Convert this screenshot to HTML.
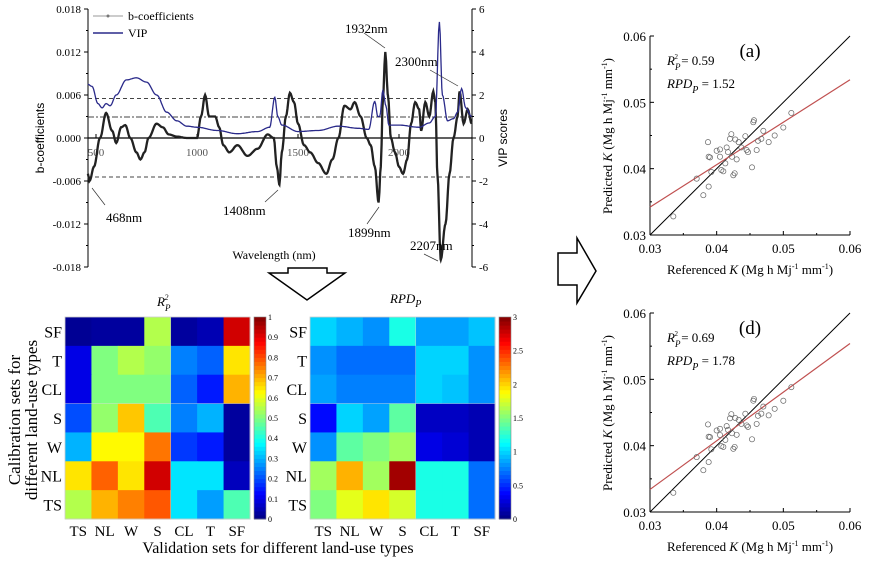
<!DOCTYPE html>
<html><head><meta charset="utf-8">
<style>
html,body{margin:0;padding:0;background:#fff;}
svg{display:block;font-family:"Liberation Serif",serif;}
</style></head>
<body>
<svg id="s" width="869" height="565" xmlns="http://www.w3.org/2000/svg"></svg>
<script>
const S=document.getElementById('s');let h='';
function X(l){return 96+(l-500)*0.202;}
function Yb(b){return 138-b/0.006*43;}
function Yv(v){return 138-v*21.5;}
function interp(pts,step){let o=[];for(let i=0;i<pts.length-1;i++){const [a,b]=pts[i],[c,d]=pts[i+1];for(let t=0;t<1;t+=step/(c-a)){const s=(1-Math.cos(Math.PI*t))/2;o.push([a+(c-a)*t,b+(d-b)*s]);}}o.push(pts[pts.length-1]);return o;}
h+='<line x1="88" y1="9" x2="88" y2="267" stroke="#000"/><line x1="472" y1="9" x2="472" y2="267" stroke="#000"/>';
[0.018,0.012,0.006,0,-0.006,-0.012,-0.018].forEach(v=>{const y=Yb(v);h+=`<line x1="84" y1="${y}" x2="88" y2="${y}" stroke="#000"/><text x="81" y="${y+4}" font-size="11" text-anchor="end">${v===0?'0.000':v.toFixed(3)}</text>`;});
for(let v=-0.015;v<0.018;v+=0.006){const y=Yb(v);h+=`<line x1="86" y1="${y}" x2="88" y2="${y}" stroke="#000"/>`;}
[6,4,2,0,-2,-4,-6].forEach(v=>{const y=Yv(v);h+=`<line x1="472" y1="${y}" x2="476" y2="${y}" stroke="#000"/><text x="479" y="${y+4}" font-size="11">${v}</text>`;});
for(let v=-5;v<6;v+=2){const y=Yv(v);h+=`<line x1="472" y1="${y}" x2="474" y2="${y}" stroke="#000"/>`;}
h+='<line x1="88" y1="138" x2="472" y2="138" stroke="#000" stroke-width="1.3"/>';
[500,1000,1500,2000].forEach(l=>{h+=`<text x="${X(l)}" y="156" font-size="11" fill="#555" text-anchor="middle">${l}</text><line x1="${X(l)}" y1="138" x2="${X(l)}" y2="134" stroke="#000"/>`;});
h+='<line x1="88" y1="98.5" x2="472" y2="98.5" stroke="#444" stroke-dasharray="4,3"/>';
h+='<line x1="88" y1="117" x2="472" y2="117" stroke="#444" stroke-dasharray="6,2,2,2"/>';
h+='<line x1="88" y1="177" x2="472" y2="177" stroke="#444" stroke-dasharray="4,3"/>';
const B=[[460,-0.005],[468,-0.006],[490,-0.004],[520,0],[550,0.0035],[580,0.001],[600,-0.0007],[625,0.0015],[645,0.0018],[670,0],[700,-0.002],[720,-0.003],[740,-0.002],[760,0],[800,0.002],[830,0.0015],[860,0.0005],[900,0.0002],[950,0],[1000,0],[1020,0.003],[1040,0.006],[1060,0.003],[1090,0.003],[1110,0.0015],[1130,-0.001],[1160,-0.002],[1200,-0.001],[1250,-0.0025],[1300,-0.0015],[1350,0.0005],[1380,0],[1395,-0.004],[1408,-0.0065],[1420,-0.002],[1440,0.003],[1460,0.0063],[1480,0.005],[1500,0.002],[1530,-0.001],[1560,-0.002],[1600,-0.0035],[1640,-0.005],[1670,-0.003],[1700,0],[1730,0.0045],[1760,0.004],[1780,0.005],[1810,0.003],[1840,0],[1860,-0.001],[1880,-0.004],[1899,-0.009],[1910,-0.004],[1920,0.005],[1932,0.012],[1945,0.006],[1960,0],[1980,-0.002],[2000,-0.004],[2020,-0.005],[2040,-0.003],[2060,0.002],[2080,0.005],[2100,0.004],[2110,0.001],[2130,0.005],[2150,0.003],[2170,0.0065],[2180,0.005],[2190,-0.005],[2207,-0.017],[2230,-0.012],[2250,-0.005],[2270,0],[2290,0.003],[2300,0.0065],[2320,0.002],[2340,0.004],[2360,0.002]];
const bp=interp(B,4);
h+=`<polyline fill="none" stroke="#222" stroke-width="2.3" points="${bp.map(p=>X(p[0]).toFixed(1)+','+Yb(p[1]).toFixed(1)).join(' ')}"/>`;
const V=[[460,2.5],[480,2.4],[510,1.6],[530,1.4],[550,1.6],[570,1.5],[600,2.0],[650,2.7],[700,2.8],[750,2.6],[800,2.0],[850,1.2],[900,0.8],[950,0.55],[1000,0.5],[1100,0.35],[1200,0.2],[1300,0.3],[1360,0.5],[1385,1.9],[1400,1.0],[1420,0.6],[1500,0.3],[1600,0.35],[1700,0.55],[1800,0.45],[1850,0.4],[1880,1.7],[1895,1.0],[1905,1.0],[1920,2.2],[1935,1.5],[1950,0.6],[2000,0.6],[2100,0.5],[2150,0.7],[2180,1.0],[2200,5.4],[2215,2.0],[2240,0.8],[2270,0.9],[2290,1.2],[2310,2.3],[2330,1.4],[2360,1.0]];
const vp=interp(V,4);
h+=`<polyline fill="none" stroke="#2a2a8a" stroke-width="1.3" points="${vp.map(p=>X(p[0]).toFixed(1)+','+Yv(p[1]).toFixed(1)).join(' ')}"/>`;
h+='<line x1="93" y1="16" x2="123" y2="16" stroke="#999"/><circle cx="108" cy="16" r="1.5" fill="#777"/><text x="128" y="20" font-size="12">b-coefficients</text>';
h+='<line x1="93" y1="33" x2="123" y2="33" stroke="#2a2a8a" stroke-width="1.5"/><text x="128" y="37" font-size="12">VIP</text>';
h+='<text transform="translate(44,138) rotate(-90)" font-size="12" text-anchor="middle" font-family="Liberation Sans,sans-serif">b-coefficients</text>';
h+='<text transform="translate(507,138) rotate(-90)" font-size="12" text-anchor="middle" font-family="Liberation Sans,sans-serif">VIP scores</text>';
h+='<text x="274" y="259" font-size="12" text-anchor="middle">Wavelength (nm)</text>';
const A=[['468nm',106,222],['1408nm',223,215],['1899nm',348,237],['1932nm',345,33],['2300nm',395,66],['2207nm',410,250]];
A.forEach(a=>{h+=`<text x="${a[1]}" y="${a[2]}" font-size="13">${a[0]}</text>`;});
h+='<line x1="105" y1="205" x2="92" y2="188" stroke="#333" stroke-width="0.7"/><line x1="265" y1="202" x2="278" y2="190" stroke="#333" stroke-width="0.7"/><line x1="367" y1="224" x2="379" y2="207" stroke="#333" stroke-width="0.7"/><line x1="364" y1="33" x2="385" y2="48" stroke="#333" stroke-width="0.7"/><line x1="430" y1="70" x2="458" y2="86" stroke="#333" stroke-width="0.7"/><line x1="424" y1="254" x2="438" y2="261" stroke="#333" stroke-width="0.7"/>';
h+='<path d="M288,268 H327 V273 H345 L307,300 L269,273 H288 Z" fill="#fff" stroke="#000" stroke-width="1.5"/>';
h+='<path d="M558,253 H577 V238 L596,271 L577,303 V285 H558 Z" fill="#fff" stroke="#000" stroke-width="1.5"/>';
function jet(v){v=Math.max(0,Math.min(1,v));const r=Math.min(4*v-1.5,-4*v+4.5),g=Math.min(4*v-0.5,-4*v+3.5),b=Math.min(4*v+0.5,-4*v+2.5);const c=x=>Math.round(255*Math.max(0,Math.min(1,x)));return `rgb(${c(r)},${c(g)},${c(b)})`;}
const rows=['SF','T','CL','S','W','NL','TS'],cols=['TS','NL','W','S','CL','T','SF'];
const R2=[[0.02,0.03,0.03,0.55,0.03,0.05,0.92],[0.1,0.5,0.55,0.52,0.25,0.22,0.65],[0.1,0.5,0.5,0.5,0.22,0.15,0.7],[0.2,0.52,0.68,0.45,0.25,0.3,0.03],[0.3,0.63,0.63,0.76,0.18,0.15,0.03],[0.65,0.78,0.65,0.92,0.35,0.35,0.06],[0.55,0.7,0.75,0.79,0.35,0.28,0.45]];
const RPD=[[1.0,0.9,0.8,1.2,0.85,0.85,0.95],[0.8,0.7,0.7,0.7,1.0,1.0,0.8],[0.85,0.75,0.75,0.75,1.0,0.95,0.8],[0.4,1.0,0.85,1.4,0.2,0.2,0.15],[0.8,1.4,1.5,1.6,0.3,0.25,0.15],[1.6,2.1,1.6,2.9,1.2,1.2,0.7],[1.5,1.8,1.95,1.75,1.2,1.2,0.7]];
function heat(x0,data,mx,labs){const w=185/7,hh=202/7,y0=317;
for(let i=0;i<7;i++)for(let j=0;j<7;j++)h+=`<rect x="${x0+j*w}" y="${y0+i*hh}" width="${w+0.5}" height="${hh+0.5}" fill="${jet(data[i][j]/mx)}"/>`;
h+=`<line x1="${x0}" y1="${y0+3*hh}" x2="${x0+185}" y2="${y0+3*hh}" stroke="#ddd" stroke-width="0.6" opacity="0.7"/><line x1="${x0+4*w}" y1="${y0}" x2="${x0+4*w}" y2="${y0+202}" stroke="#ddd" stroke-width="0.6" opacity="0.7"/>`;
h+=`<rect x="${x0}" y="${y0}" width="185" height="202" fill="none" stroke="#ccc" stroke-width="0.8"/>`;
rows.forEach((r,i)=>h+=`<text x="${x0-3}" y="${y0+i*hh+hh/2+6}" font-size="16" text-anchor="end">${r}</text>`);
cols.forEach((c,j)=>h+=`<text x="${x0+j*w+w/2}" y="536" font-size="15" text-anchor="middle">${c}</text>`);
for(let k=0;k<50;k++)h+=`<rect x="${x0+189}" y="${y0+202-(k+1)*202/50}" width="12" height="${202/50+0.5}" fill="${jet((k+0.5)/50)}"/>`;
h+=`<rect x="${x0+189}" y="${y0}" width="12" height="202" fill="none" stroke="#888" stroke-width="0.6"/>`;
labs.forEach(([t,f])=>h+=`<text x="${x0+203}" y="${y0+202-f*202+3}" font-size="8">${t}</text>`);}
heat(65,R2,1,[0,0.1,0.2,0.3,0.4,0.5,0.6,0.7,0.8,0.9,1].map(v=>[v,v]));
heat(310,RPD,3,[[0,0],[0.5,1/6],[1,1/3],[1.5,0.5],[2,2/3],[2.5,5/6],[3,1]]);
h+='<text x="157" y="306" font-size="13" font-style="italic">R<tspan dy="5" font-size="9">P</tspan><tspan dx="-6" dy="-11" font-size="8">2</tspan></text>';
h+='<text x="390" y="303" font-size="13" font-style="italic">RPD<tspan dy="4" font-size="10">P</tspan></text>';
h+='<text transform="translate(20,420) rotate(-90)" font-size="17" text-anchor="middle">Calibration sets for</text>';
h+='<text transform="translate(37,420) rotate(-90)" font-size="17" text-anchor="middle">different land-use types</text>';
h+='<text x="278" y="553" font-size="16" text-anchor="middle">Validation sets for different land-use types</text>';
const P=[[0.0335,0.0328],[0.037,0.0385],[0.038,0.036],[0.0388,0.0373],[0.0387,0.044],[0.0388,0.0418],[0.039,0.0417],[0.0392,0.0395],[0.040,0.0427],[0.0405,0.0429],[0.0405,0.0418],[0.0407,0.0398],[0.041,0.0396],[0.0413,0.0408],[0.0415,0.0432],[0.0417,0.0425],[0.042,0.0445],[0.0422,0.0452],[0.0423,0.0418],[0.0425,0.039],[0.0427,0.0393],[0.0428,0.0444],[0.043,0.0414],[0.0433,0.044],[0.0437,0.0432],[0.0443,0.0449],[0.0445,0.0428],[0.0447,0.0425],[0.0453,0.0402],[0.0455,0.047],[0.0456,0.0473],[0.046,0.0428],[0.0462,0.0442],[0.0467,0.0445],[0.047,0.0457],[0.0478,0.044],[0.0487,0.045],[0.050,0.0462],[0.0512,0.0484]];
function scat(y0,lab,r2,rpd,r0,r1,sh){const sx=v=>650+(v-0.03)/0.03*200,sy=v=>y0+199-(v-0.03)/0.03*199;
h+=`<line x1="650" y1="${y0}" x2="650" y2="${y0+199}" stroke="#000"/><line x1="650" y1="${y0+199}" x2="850" y2="${y0+199}" stroke="#000"/>`;
[0.03,0.04,0.05,0.06].forEach(v=>{h+=`<line x1="${sx(v)}" y1="${y0+199}" x2="${sx(v)}" y2="${y0+195}" stroke="#000"/><text x="${sx(v)}" y="${y0+217}" font-size="13" text-anchor="middle">${v.toFixed(2)}</text><line x1="650" y1="${sy(v)}" x2="654" y2="${sy(v)}" stroke="#000"/><text x="646" y="${sy(v)+5}" font-size="13" text-anchor="end">${v.toFixed(2)}</text>`;});
[0.035,0.045,0.055].forEach(v=>{h+=`<line x1="${sx(v)}" y1="${y0+199}" x2="${sx(v)}" y2="${y0+197}" stroke="#000"/><line x1="650" y1="${sy(v)}" x2="652" y2="${sy(v)}" stroke="#000"/>`;});
h+=`<line x1="650" y1="${y0+199}" x2="850" y2="${y0}" stroke="#000"/>`;
h+=`<line x1="650" y1="${sy(r0)}" x2="850" y2="${sy(r1)}" stroke="#c05050" stroke-width="1.2"/>`;
P.forEach(p=>{const yy=p[1]+(p[0]-p[1])*sh;h+=`<circle cx="${sx(p[0])}" cy="${sy(yy)}" r="2.6" fill="none" stroke="#666" stroke-width="0.7"/>`;});
h+=`<text x="750" y="${y0+21}" font-size="19" text-anchor="middle">${lab}</text>`;
h+=`<text x="667" y="${y0+29}" font-size="13"><tspan font-style="italic">R</tspan><tspan dy="5" font-size="9" font-style="italic">P</tspan><tspan dx="-6" dy="-11" font-size="7">2</tspan><tspan dy="6"> = ${r2}</tspan></text>`;
h+=`<text x="667" y="${y0+52}" font-size="13"><tspan font-style="italic">RPD</tspan><tspan dy="5" font-size="10" font-style="italic">P</tspan><tspan dy="-5"> = ${rpd}</tspan></text>`;
h+=`<text transform="translate(612,${y0+100}) rotate(-90)" font-size="13" text-anchor="middle">Predicted <tspan font-style="italic">K</tspan> (Mg h Mj<tspan dy="-5" font-size="8">-1</tspan><tspan dy="5"> mm</tspan><tspan dy="-5" font-size="8">-1</tspan><tspan dy="5">)</tspan></text>`;
h+=`<text x="750" y="${y0+238}" font-size="13" text-anchor="middle">Referenced <tspan font-style="italic">K</tspan> (Mg h Mj<tspan dy="-5" font-size="8">-1</tspan><tspan dy="5"> mm</tspan><tspan dy="-5" font-size="8">-1</tspan><tspan dy="5">)</tspan></text>`;}
scat(36,'(a)','0.59','1.52',0.0342,0.0534,0);
scat(313,'(d)','0.69','1.78',0.0334,0.0554,0.15);
S.innerHTML=h;
</script>
</body></html>
